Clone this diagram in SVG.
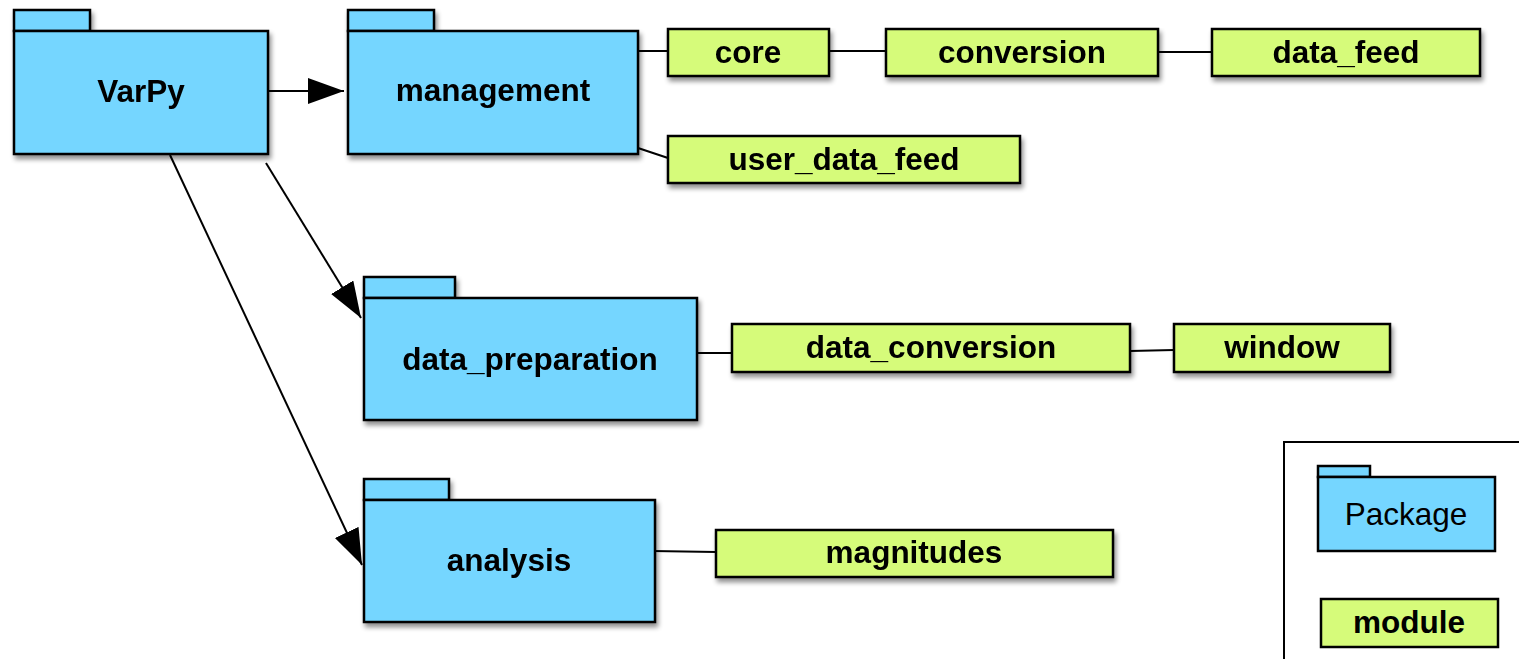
<svg xmlns="http://www.w3.org/2000/svg" width="1519" height="659" viewBox="0 0 1519 659">
<defs>
<filter id="sh" x="-10%" y="-10%" width="130%" height="140%">
<feGaussianBlur in="SourceAlpha" stdDeviation="2.5"/>
<feOffset dx="2" dy="4" result="b"/>
<feComponentTransfer><feFuncA type="linear" slope="0.45"/></feComponentTransfer>
<feMerge><feMergeNode/><feMergeNode in="SourceGraphic"/></feMerge>
</filter>
<marker id="ah" markerUnits="userSpaceOnUse" markerWidth="37" markerHeight="27" refX="36" refY="13" orient="auto" viewBox="0 0 37 27">
<path d="M0,0 L36,13 L0,26 z" fill="#000"/>
</marker>
</defs>
<style>
.pk{fill:#75D6FF;stroke:#000;stroke-width:2.5}
.md{fill:#D6FB7A;stroke:#000;stroke-width:2.5}
.t{font-family:"Liberation Sans",Arial,sans-serif;font-size:31.5px;font-weight:bold;text-anchor:middle;fill:#000}
.tr{font-family:"Liberation Sans",Arial,sans-serif;font-size:31.5px;text-anchor:middle;fill:#000}
.c{stroke:#000;stroke-width:2;fill:none}
</style>
<rect width="1519" height="659" fill="#fff"/>
<g id="connectors">
<line class="c" x1="268" y1="91" x2="344" y2="91" marker-end="url(#ah)"/>
<line class="c" x1="266" y1="163" x2="361" y2="318" marker-end="url(#ah)"/>
<line class="c" x1="170" y1="155" x2="362" y2="565" marker-end="url(#ah)"/>
<line class="c" x1="638" y1="51" x2="668" y2="51"/>
<line class="c" x1="829" y1="51" x2="886" y2="51"/>
<line class="c" x1="1158" y1="52" x2="1212" y2="52"/>
<line class="c" x1="638" y1="148" x2="668" y2="158"/>
<line class="c" x1="697" y1="353" x2="732" y2="353"/>
<line class="c" x1="1130" y1="351" x2="1174" y2="350"/>
<line class="c" x1="652" y1="551" x2="716" y2="552"/>
</g>
<g id="varpy" filter="url(#sh)">
<rect class="pk" x="14" y="10" width="76" height="21"/>
<rect class="pk" x="14" y="31" width="254" height="123"/>
<text class="t" x="141" y="102">VarPy</text>
</g>
<g id="management" filter="url(#sh)">
<rect class="pk" x="348" y="10" width="86" height="21"/>
<rect class="pk" x="348" y="31" width="290" height="123"/>
<text class="t" x="493" y="101">management</text>
</g>
<g id="data_preparation" filter="url(#sh)">
<rect class="pk" x="364" y="277" width="91" height="21"/>
<rect class="pk" x="364" y="298" width="333" height="122"/>
<text class="t" x="530" y="370">data_preparation</text>
</g>
<g id="analysis" filter="url(#sh)">
<rect class="pk" x="364" y="479" width="85" height="21"/>
<rect class="pk" x="364" y="500" width="291" height="122"/>
<text class="t" x="509" y="571">analysis</text>
</g>
<g id="core" filter="url(#sh)">
<rect class="md" x="668" y="29" width="161" height="47"/>
<text class="t" x="748" y="63">core</text>
</g>
<g id="conversion" filter="url(#sh)">
<rect class="md" x="886" y="29" width="272" height="47"/>
<text class="t" x="1022" y="63">conversion</text>
</g>
<g id="data_feed" filter="url(#sh)">
<rect class="md" x="1212" y="29" width="268" height="47"/>
<text class="t" x="1346" y="63">data_feed</text>
</g>
<g id="user_data_feed" filter="url(#sh)">
<rect class="md" x="668" y="136" width="352" height="47"/>
<text class="t" x="844" y="170">user_data_feed</text>
</g>
<g id="data_conversion" filter="url(#sh)">
<rect class="md" x="732" y="324" width="398" height="48"/>
<text class="t" x="931" y="358">data_conversion</text>
</g>
<g id="window" filter="url(#sh)">
<rect class="md" x="1174" y="324" width="216" height="48"/>
<text class="t" x="1282" y="358">window</text>
</g>
<g id="magnitudes" filter="url(#sh)">
<rect class="md" x="716" y="530" width="397" height="47"/>
<text class="t" x="914" y="563">magnitudes</text>
</g>
<g id="legend">
<rect x="1284" y="442" width="300" height="300" fill="#fff" stroke="#000" stroke-width="2"/>
<rect class="pk" x="1318" y="466" width="52" height="11" stroke-width="2"/>
<rect class="pk" x="1318" y="477" width="177" height="74" stroke-width="2"/>
<text class="tr" x="1406" y="525">Package</text>
<rect class="md" x="1321" y="599" width="177" height="48" stroke-width="2"/>
<text class="t" x="1409" y="633">module</text>
</g>
</svg>
